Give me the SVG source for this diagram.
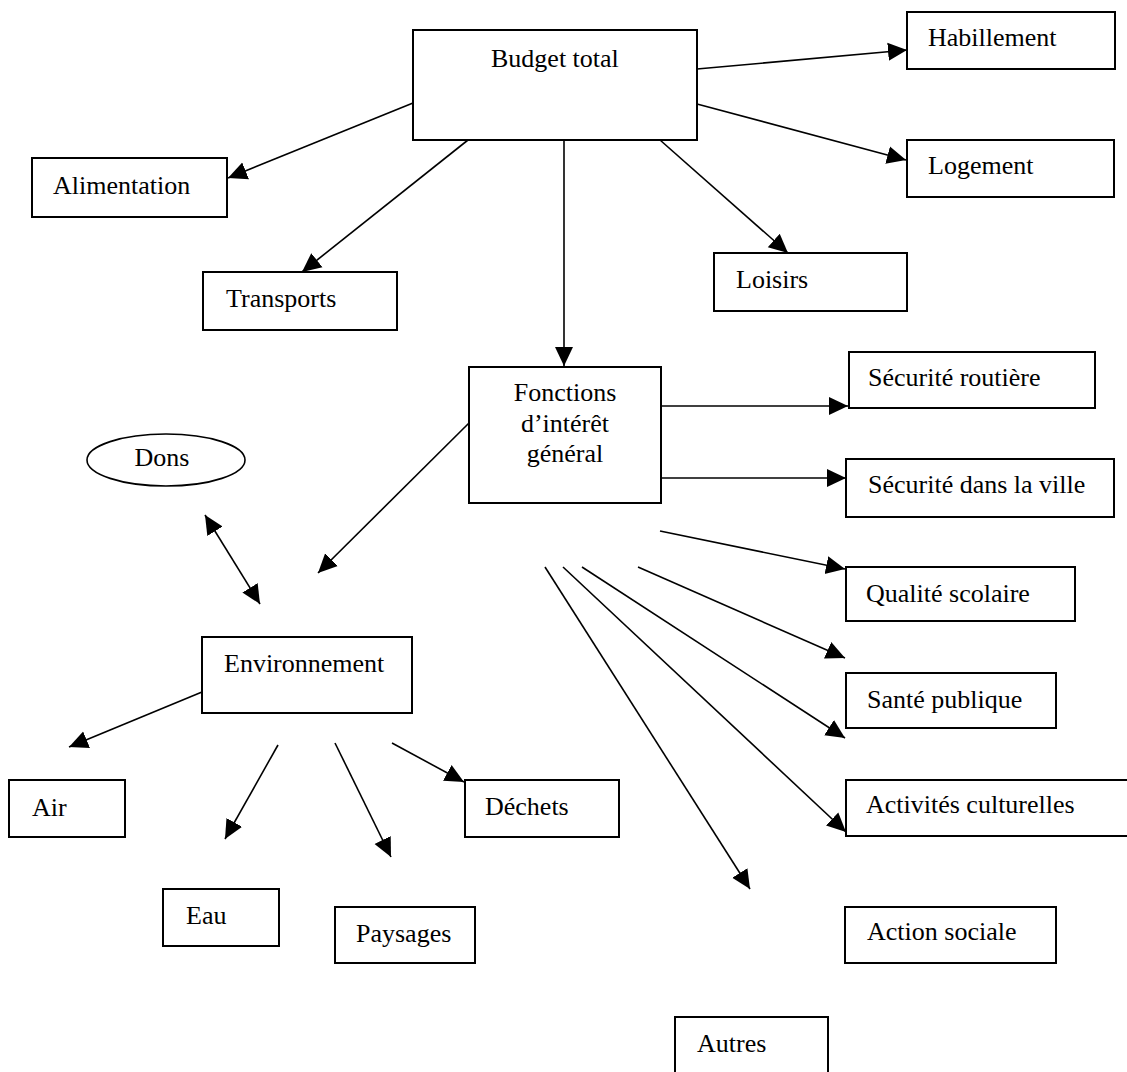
<svg xmlns="http://www.w3.org/2000/svg" width="1127" height="1072" viewBox="0 0 1127 1072">
<style>
.box{fill:#fff;stroke:#000;stroke-width:2}
.lbl{font-family:"Liberation Serif","Times New Roman",serif;font-size:26px;fill:#000}
.c{text-anchor:middle}
.ln{fill:none;stroke:#000;stroke-width:1.6;marker-end:url(#ah)}
</style>
<defs>
<marker id="ah" markerUnits="userSpaceOnUse" markerWidth="20" markerHeight="20" refX="19" refY="9" orient="auto-start-reverse" viewBox="0 0 20 18">
<path d="M0,0 L19,9 L0,18 z" fill="#000"/>
</marker>
</defs>
<rect width="1127" height="1072" fill="#fff"/>
<g id="connectors">
<line class="ln" x1="413" y1="103" x2="228" y2="178"/>
<line class="ln" x1="468" y1="140" x2="302" y2="272"/>
<line class="ln" x1="564" y1="140" x2="564" y2="366"/>
<line class="ln" x1="660" y1="140" x2="788" y2="253"/>
<line class="ln" x1="697" y1="69" x2="907" y2="50"/>
<line class="ln" x1="697" y1="104" x2="906" y2="160"/>
<line class="ln" x1="661" y1="406" x2="848" y2="406"/>
<line class="ln" x1="661" y1="478" x2="846" y2="478"/>
<line class="ln" x1="660" y1="531" x2="845" y2="569"/>
<line class="ln" x1="638" y1="567" x2="845" y2="658"/>
<line class="ln" x1="582" y1="567" x2="845" y2="738"/>
<line class="ln" x1="563" y1="567" x2="846" y2="832"/>
<line class="ln" x1="545" y1="567" x2="750" y2="889"/>
<line class="ln" x1="469" y1="423" x2="318" y2="573"/>
<line class="ln" x1="205" y1="515" x2="260" y2="604" marker-start="url(#ah)"/>
<line class="ln" x1="202" y1="692" x2="69" y2="747"/>
<line class="ln" x1="278" y1="745" x2="225" y2="839"/>
<line class="ln" x1="335" y1="743" x2="391" y2="857"/>
<line class="ln" x1="392" y1="743" x2="464" y2="782"/>
</g>
<g id="budget"><rect class="box" x="413" y="30" width="284" height="110"/><text class="lbl" x="491" y="67">Budget total</text></g>
<g id="habillement"><rect class="box" x="907" y="12" width="208" height="57"/><text class="lbl" x="928" y="46">Habillement</text></g>
<g id="logement"><rect class="box" x="907" y="140" width="207" height="57"/><text class="lbl" x="928" y="174">Logement</text></g>
<g id="alimentation"><rect class="box" x="32" y="158" width="195" height="59"/><text class="lbl" x="53" y="194">Alimentation</text></g>
<g id="transports"><rect class="box" x="203" y="272" width="194" height="58"/><text class="lbl" x="226" y="307">Transports</text></g>
<g id="loisirs"><rect class="box" x="714" y="253" width="193" height="58"/><text class="lbl" x="736" y="288">Loisirs</text></g>
<g id="fonctions"><rect class="box" x="469" y="367" width="192" height="136"/>
<text class="lbl c" x="565" y="401">Fonctions</text>
<text class="lbl c" x="565" y="432">d’intérêt</text>
<text class="lbl c" x="565" y="462">général</text></g>
<g id="securite-routiere"><rect class="box" x="849" y="352" width="246" height="56"/><text class="lbl" x="868" y="386">Sécurité routière</text></g>
<g id="securite-ville"><rect class="box" x="846" y="459" width="268" height="58"/><text class="lbl" x="868" y="493">Sécurité dans la ville</text></g>
<g id="dons"><ellipse cx="166" cy="460" rx="79" ry="26" fill="#fff" stroke="#000" stroke-width="1.6"/><text class="lbl c" x="162" y="466">Dons</text></g>
<g id="qualite"><rect class="box" x="846" y="567" width="229" height="54"/><text class="lbl" x="866" y="602">Qualité scolaire</text></g>
<g id="sante"><rect class="box" x="846" y="673" width="210" height="55"/><text class="lbl" x="867" y="708">Santé publique</text></g>
<g id="environnement"><rect class="box" x="202" y="637" width="210" height="76"/><text class="lbl" x="224" y="672">Environnement</text></g>
<g id="air"><rect class="box" x="9" y="780" width="116" height="57"/><text class="lbl" x="32" y="816">Air</text></g>
<g id="dechets"><rect class="box" x="465" y="780" width="154" height="57"/><text class="lbl" x="485" y="815">Déchets</text></g>
<g id="activites"><rect class="box" x="846" y="780" width="290" height="56"/><text class="lbl" x="866" y="813">Activités culturelles</text></g>
<g id="eau"><rect class="box" x="163" y="889" width="116" height="57"/><text class="lbl" x="186" y="924">Eau</text></g>
<g id="paysages"><rect class="box" x="335" y="907" width="140" height="56"/><text class="lbl" x="356" y="942">Paysages</text></g>
<g id="action-sociale"><rect class="box" x="845" y="907" width="211" height="56"/><text class="lbl" x="867" y="940">Action sociale</text></g>
<g id="autres"><rect class="box" x="675" y="1017" width="153" height="70"/><text class="lbl" x="697" y="1052">Autres</text></g>
</svg>
